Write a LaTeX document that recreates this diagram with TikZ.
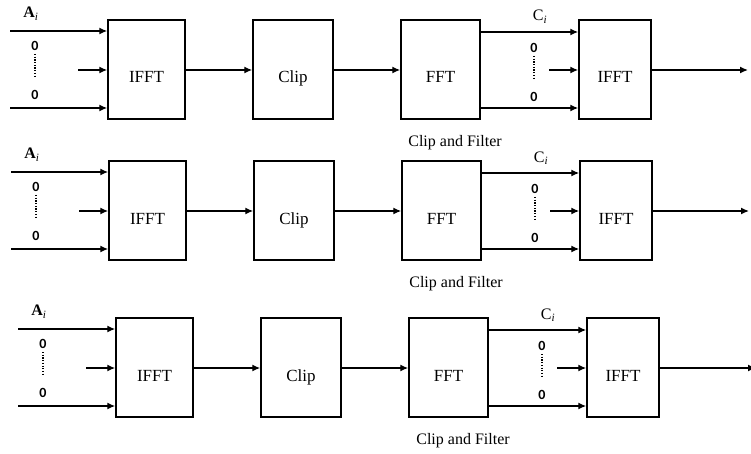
\documentclass[tikz,border=0pt]{standalone}
\usepackage{fontspec}
\setmainfont{Liberation Serif}
\newfontfamily\zerofont{Carlito}
\usetikzlibrary{arrows.meta}
\tikzset{
  blk/.style={draw, line width=1.5pt, minimum height=99pt, inner sep=0pt, text height=27pt, text depth=0pt, font=\fontsize{17}{20}\selectfont},
  arr/.style={line width=1.4pt, -{Latex[length=8pt,width=7pt]}},
  zlab/.style={font=\zerofont\bfseries\fontsize{14}{16}\selectfont, inner sep=0pt},
  dotl/.style={line width=1.5pt, dash pattern=on 1.2pt off 1.5pt},
  lab/.style={font=\fontsize{16}{18}\selectfont, inner sep=0pt},
  captext/.style={font=\fontsize{16}{19}\selectfont, inner sep=0pt}
}
\newcommand\ofdmrow[3]{%
\begin{scope}[shift={(#2,#3)}]
  \node[blk, minimum width=77pt] (#1i) at (146.5,69.5) {IFFT};
  \node[blk, minimum width=80pt] (#1c) at (293,69.5) {Clip};
  \node[blk, minimum width=79pt] (#1f) at (440.5,69.5) {FFT};
  \node[blk, minimum width=72pt] (#1g) at (615,69.5) {IFFT};
  \coordinate (#1a1) at (10,31);
  \coordinate (#1a2) at (78,70);
  \coordinate (#1a3) at (10,108);
  \coordinate (#1b1) at (0,32);
  \coordinate (#1b2) at (549,70);
  \coordinate (#1b3) at (0,108);
  \coordinate (#1o) at (748,70);
  \draw[arr] (#1a1) -- (#1i.west |- #1a1);
  \draw[arr] (#1a2) -- (#1i.west |- #1a2);
  \draw[arr] (#1a3) -- (#1i.west |- #1a3);
  \draw[arr] (#1i.east |- #1a2) -- (#1c.west |- #1a2);
  \draw[arr] (#1c.east |- #1a2) -- (#1f.west |- #1a2);
  \draw[arr] (#1f.east |- #1b1) -- (#1g.west |- #1b1);
  \draw[arr] (#1b2) -- (#1g.west |- #1b2);
  \draw[arr] (#1f.east |- #1b3) -- (#1g.west |- #1b3);
  \draw[arr] (#1g.east |- #1o) -- (#1o);
  \node[lab] (#1A) at (31,14) {\textbf{A}\textsubscript{\textit{i}}};
  \node[zlab] (#1z1) at (35,46) {0};
  \node[zlab] (#1z2) at (35,95) {0};
  \draw[dotl] (35,54) -- (35,78);
  \node[lab] (#1C) at (540,17) {C\textsubscript{\textit{i}}};
  \node[zlab] (#1z3) at (534,48) {0};
  \node[zlab] (#1z4) at (534,97) {0};
  \draw[dotl] (534,56) -- (534,80);
  \node[captext] (#1t) at (455,143) {Clip and Filter};
\end{scope}}
\begin{document}
\begin{tikzpicture}[x=1pt,y=-1pt]
  \useasboundingbox (0,0) rectangle (751,454);
  \ofdmrow{r}{0}{0}
  \ofdmrow{s}{1}{141}
  \ofdmrow{u}{8}{298}
\end{tikzpicture}
\end{document}
